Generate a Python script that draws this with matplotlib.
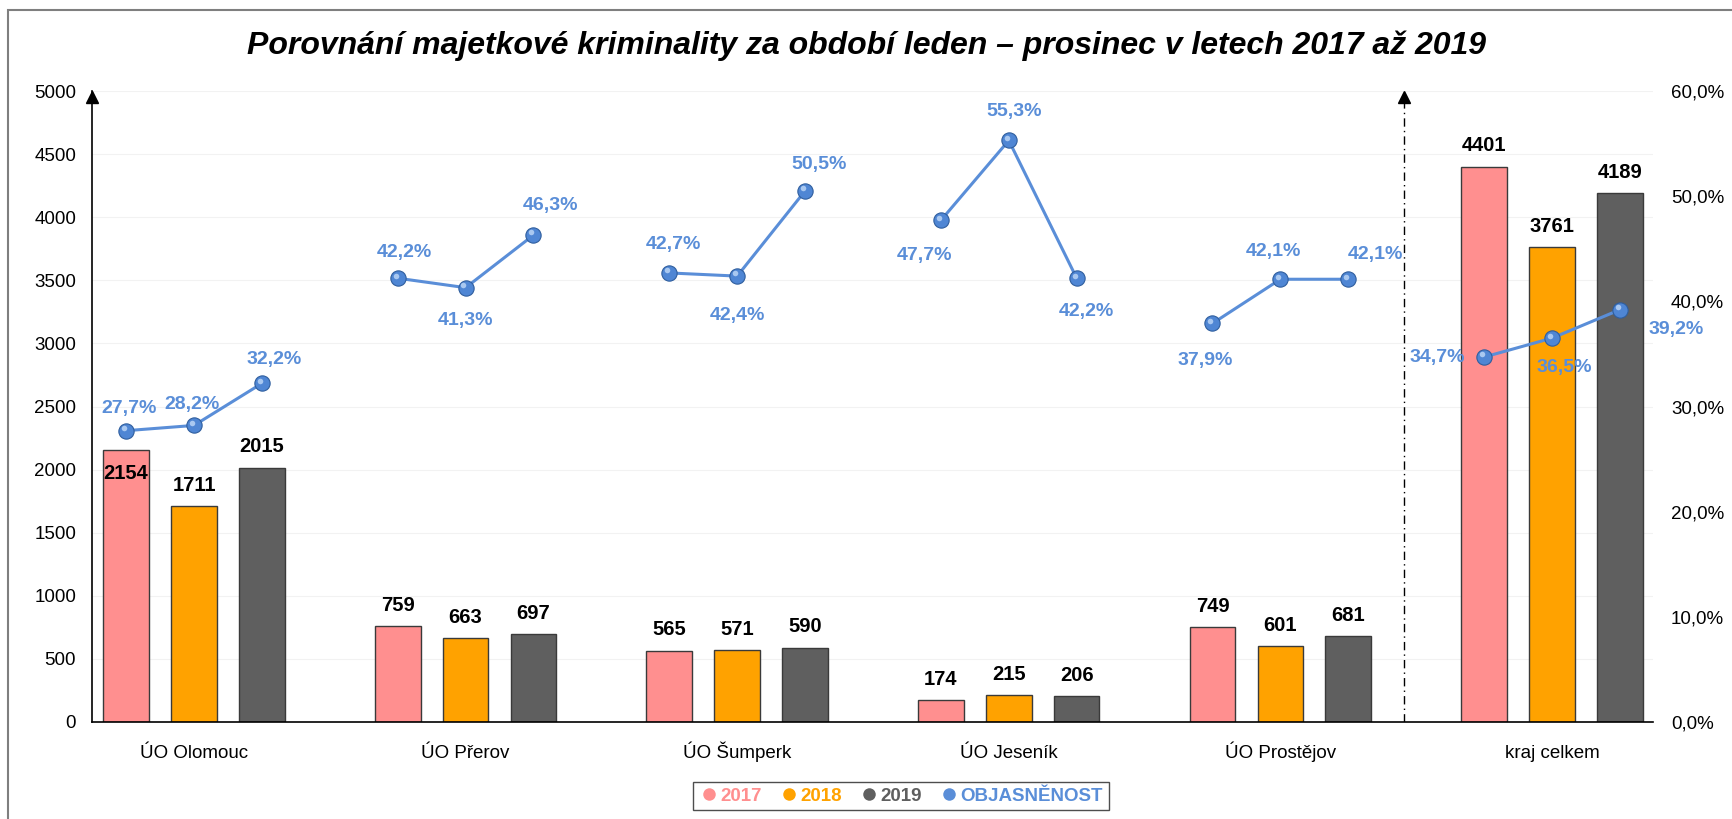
import matplotlib.pyplot as plt
from matplotlib.lines import Line2D
from matplotlib.patches import Rectangle

categories = ['ÚO Olomouc', 'ÚO Přerov', 'ÚO Šumperk', 'ÚO Jeseník', 'ÚO Prostějov', 'kraj celkem']
years = ['2017', '2018', '2019']
v2017 = [2154, 759, 565, 174, 749, 4401]
v2018 = [1711, 663, 571, 215, 601, 3761]
v2019 = [2015, 697, 590, 206, 681, 4189]
objasnenost = [
    [27.7, 28.2, 32.2],
    [42.2, 41.3, 46.3],
    [42.7, 42.4, 50.5],
    [47.7, 55.3, 42.2],
    [37.9, 42.1, 42.1],
    [34.7, 36.5, 39.2],
]
left_ticks = list(range(0, 5001, 500))
right_ticks = [0, 10, 20, 30, 40, 50, 60]

# label offsets (pixels) for the percentage labels
pct_offsets = [
    [(3, -22), (-2, -21), (12, -24)],
    [(7, -26), (0, 33), (17, -30)],
    [(4, -28), (0, 39), (14, -26)],
    [(-16, 35), (5, -29), (10, 33)],
    [(-7, 37), (-7, -28), (27, -25)],
    [(-47, 0), (12, 29), (56, 20)],
]

colors = ['#FF8F8F', '#FFA200', '#5F5F5F']
blue = '#5A8ED8'
plt.rcParams['font.family'] = ['Liberation Sans', 'DejaVu Sans']

fig = plt.figure(figsize=(17.33, 8.19), dpi=100)
ax = fig.add_axes([92 / 1733, 1 - 722 / 819, (1653 - 92) / 1733, (722 - 91) / 819])
ax2 = ax.twinx()

x = list(range(len(categories)))
off = 0.25
w = 0.168
series = [v2017, v2018, v2019]
for i, vals in enumerate(series):
    xs = [xi + (i - 1) * off for xi in x]
    ax.bar(xs, vals, width=w, color=colors[i], edgecolor='#3a3a3a', linewidth=1.0, zorder=2)
    for j, (xx, v) in enumerate(zip(xs, vals)):
        dy = -17 if (i == 0 and j == 0) else 15
        ax.annotate(str(v), (xx, v), xytext=(0, dy), textcoords='offset points',
                    ha='center', va='center', fontsize=14.5, fontweight='bold')

ax.set_xlim(-0.3756, 5.372)
ax.set_ylim(0, 5000)
ax.set_yticks(left_ticks)
ax.set_xticks(x)
ax.set_xticklabels(categories, fontsize=13.5, va='baseline')
ax.tick_params(axis='y', length=0, pad=11.5, labelsize=13.5)
ax.tick_params(axis='x', length=0, pad=26)
for s in ['top', 'right']:
    ax.spines[s].set_visible(False)
ax.spines['left'].set_linewidth(1.2)
ax.spines['bottom'].set_linewidth(1.2)
ax.grid(axis='y', color='#f2f2f2', linewidth=0.8, zorder=0)
ax.set_axisbelow(True)
ax.plot([x[0] - 0.3756], [4952], marker='^', color='black', markersize=9, clip_on=False, zorder=5)

# separator
sep_x = 4.455
ax.plot([sep_x, sep_x], [0, 4940], color='black', linestyle=(0, (6, 3, 1, 3)), linewidth=1, zorder=3)
ax.plot([sep_x], [4952], marker='^', color='black', markersize=9, clip_on=False, zorder=5)

ax2.set_ylim(0, 60)
ax2.set_yticks(right_ticks)
ax2.set_yticklabels([f'{t},0%' for t in right_ticks], fontsize=13.5)
ax2.tick_params(axis='y', length=0, pad=13)
for s in ax2.spines.values():
    s.set_visible(False)

for j, vals in enumerate(objasnenost):
    xs = [j + (i - 1) * off for i in range(3)]
    ax2.plot(xs, vals, color=blue, linewidth=2.2, zorder=4)
    ax2.plot(xs, vals, linestyle='none', marker='o', markersize=11, color='#4F86D4',
             markeredgecolor='#2F5E9E', markeredgewidth=0.8, zorder=5)
    ax2.plot([xx - 0.008 for xx in xs], [v + 0.25 for v in vals], linestyle='none', marker='o',
             markersize=4, color='#A9C8F0', markeredgewidth=0, zorder=6)
    for i, (xx, v) in enumerate(zip(xs, vals)):
        dx, dy = pct_offsets[j][i]
        ax2.annotate(f'{v:.1f}%'.replace('.', ','), (xx, v), xytext=(dx * 0.72, -dy * 0.72),
                     textcoords='offset points', ha='center', va='center', fontsize=14,
                     fontweight='bold', color=blue, zorder=7)

fig.text(0.5, 1 - 46 / 819, 'Porovnání majetkové kriminality za období leden – prosinec v letech 2017 až 2019',
         ha='center', va='center', fontsize=23, fontweight='bold', style='italic')

handles = [Line2D([], [], linestyle='none', marker='o', markersize=9, color=c, markeredgewidth=0)
           for c in colors + [blue]]
leg = fig.legend(handles, years + ['OBJASNĚNOST'], loc='center', bbox_to_anchor=(901 / 1733, 1 - 796 / 819),
                 ncol=4, frameon=True, fancybox=False, edgecolor='#222222',
                 handletextpad=0.05, columnspacing=0.9, borderpad=0.3, handlelength=1.1,
                 prop={'weight': 'bold', 'size': 13.5})
leg.get_frame().set_linewidth(1.0)
for t, c in zip(leg.get_texts(), colors + [blue]):
    t.set_color(c)

fig.patches.append(Rectangle((8 / 1733, -0.1), 1.2, 1.1 - 10 / 819, transform=fig.transFigure,
                             fill=False, edgecolor='#7f7f7f', linewidth=1.5))

fig.savefig('out.png', dpi=100)
